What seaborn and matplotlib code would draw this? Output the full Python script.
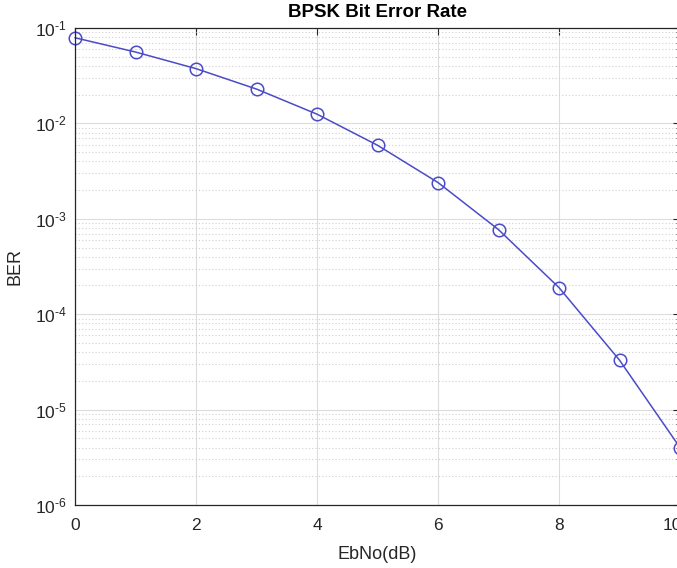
import numpy as np
import pandas as pd
import seaborn as sns
import matplotlib.pyplot as plt
from matplotlib.ticker import LogLocator, NullFormatter, FuncFormatter
from matplotlib.transforms import ScaledTranslation

# values
ebno_db = [0, 1, 2, 3, 4, 5, 6, 7, 8, 9, 10]
ber = [0.079, 0.056, 0.0375, 0.0229, 0.0125, 0.0059, 0.0024, 0.00077, 0.00019, 3.3e-5, 4.0e-6]
x_ticks = [0, 2, 4, 6, 8, 10]

df = pd.DataFrame({'EbNo': ebno_db, 'BER': ber})

sns.set_style('white')
plt.rcParams['font.family'] = ['Liberation Sans', 'DejaVu Sans']
plt.rcParams['mathtext.fontset'] = 'custom'
plt.rcParams['mathtext.rm'] = 'Liberation Sans'
plt.rcParams['mathtext.it'] = 'Liberation Sans'

fig = plt.figure(figsize=(6.77, 5.68), dpi=100)
ax = fig.add_axes([75 / 677, 1 - 505 / 568, (680 - 75) / 677, (505 - 28) / 568])

line_col = '#4b4bc8'
sns.lineplot(data=df, x='EbNo', y='BER', ax=ax, color=line_col, linewidth=1.1,
             marker='o', markersize=9, markerfacecolor='none',
             markeredgecolor=line_col, markeredgewidth=1.1, clip_on=False)

ax.set_yscale('log')
ax.set_ylim(1e-6, 1e-1)
ax.set_xlim(0, 10)
ax.set_xticks(x_ticks)
ax.yaxis.set_major_locator(LogLocator(base=10, numticks=10))
ax.yaxis.set_minor_locator(LogLocator(base=10, subs=np.arange(2, 10), numticks=10))
ax.yaxis.set_minor_formatter(NullFormatter())


def matlab_pow(v, pos):
    e = int(round(np.log10(v)))
    return r'$\mathrm{10}^{\text{%d}}$' % e


ax.yaxis.set_major_formatter(FuncFormatter(matlab_pow))

ax.grid(True, which='major', color='#dcdcdc', linewidth=0.8, linestyle='-')
ax.grid(True, which='minor', axis='y', color='#d0d0d0', linewidth=0.8, linestyle=(0, (1, 2)))
ax.set_axisbelow(True)

for s in ax.spines.values():
    s.set_color('#262626')
    s.set_linewidth(0.9)

ax.tick_params(which='both', direction='in', top=True, right=True, colors='#262626',
               labelsize=12.5, labelcolor='#262626')
ax.tick_params(which='major', length=5)
ax.tick_params(which='minor', length=3)
ax.tick_params(axis='x', pad=9)
ax.tick_params(axis='y', pad=6)

# the last x label sits a little left, as in the reference
last = ax.get_xticklabels()[-1]
last.set_transform(last.get_transform() + ScaledTranslation(-0.08, 0, fig.dpi_scale_trans))

ax.set_title('BPSK Bit Error Rate', fontsize=13.5, fontweight='bold', pad=8, color='#000000')
ax.set_xlabel('EbNo(dB)', fontsize=13, color='#262626', labelpad=10)
ax.set_ylabel('BER', fontsize=13, color='#262626', labelpad=8)

fig.savefig('out.png', dpi=100)
